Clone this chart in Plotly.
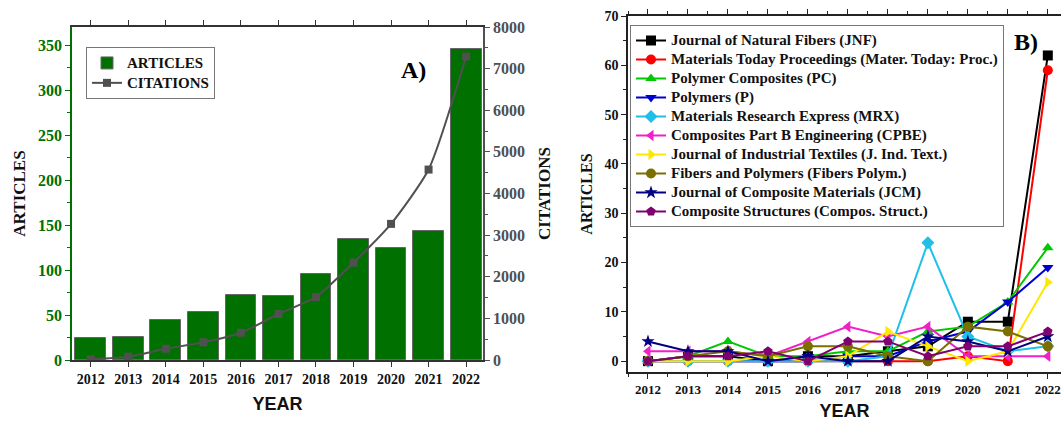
import plotly.graph_objects as go

years = [2012, 2013, 2014, 2015, 2016, 2017, 2018, 2019, 2020, 2021, 2022]
articles = [24, 26, 44, 53, 72, 71, 96, 135, 125, 143, 346]
citations = [20, 80, 270, 425, 655, 1105, 1515, 2340, 3270, 4575, 7290]

journals = [
    "Journal of Natural Fibers (JNF)",
    "Materials Today Proceedings (Mater. Today: Proc.)",
    "Polymer Composites (PC)",
    "Polymers (P)",
    "Materials Research Express (MRX)",
    "Composites Part B Engineering (CPBE)",
    "Journal of Industrial Textiles (J. Ind. Text.)",
    "Fibers and Polymers (Fibers Polym.)",
    "Journal of Composite Materials (JCM)",
    "Composite Structures (Compos. Struct.)",
]
jnf = [0, 1, 1, 0, 1, 1, 2, 3, 8, 8, 62]
mtp = [0, 0, 0, 0, 0, 0, 0, 0, 1, 0, 59]
pc = [0, 1, 4, 1, 1, 2, 2, 6, 7, 12, 23]
pol = [0, 0, 0, 0, 0, 1, 1, 4, 6, 12, 19]
mrx = [0, 0, 0, 0, 0, 0, 1, 24, 5, 2, 3]
cpbe = [2, 2, 2, 1, 4, 7, 5, 7, 1, 1, 1]
jit = [0, 0, 0, 1, 0, 1, 6, 3, 0, 2, 16]
fp = [0, 1, 2, 1, 3, 3, 1, 0, 7, 6, 3]
jcm = [4, 2, 2, 0, 1, 0, 0, 5, 4, 2, 5]
cs = [0, 1, 1, 2, 0, 4, 4, 1, 3, 3, 6]
series_b = [jnf, mtp, pc, pol, mrx, cpbe, jit, fp, jcm, cs]
colors_b = ["#000000", "#ff0000", "#00c800", "#0000d0", "#20bfe8", "#f020c8",
            "#ffe800", "#7a7000", "#000080", "#800070"]
symbols_b = ["square", "circle", "triangle-up", "triangle-down", "diamond",
             "triangle-left", "triangle-right", "circle", "star", "pentagon"]

SERIF = "Liberation Serif"
SANS = "Liberation Sans"
GREEN = "#007000"
GREY = "#505050"


def leg_label(text, size):
    return '<span style="font-size:%spx"><b>%s</b></span>' % (size, text)


fig = go.Figure()

fig.add_trace(go.Bar(
    x=years, y=articles, name=leg_label("ARTICLES", 15), marker_color=GREEN,
    marker_line_color="#666666", marker_line_width=1, width=0.82,
    xaxis="x", yaxis="y", legend="legend"))
fig.add_trace(go.Scatter(
    x=years, y=citations, name=leg_label("CITATIONS", 15), mode="lines+markers",
    line=dict(color=GREY, width=2, shape="spline", smoothing=0.6),
    marker=dict(symbol="square", size=8, color=GREY),
    xaxis="x", yaxis="y2", legend="legend"))

for name, vals, col, sym in zip(journals, series_b, colors_b, symbols_b):
    fig.add_trace(go.Scatter(
        x=years, y=vals, name=leg_label(name, 15), mode="lines+markers",
        line=dict(color=col, width=2),
        marker=dict(symbol=sym, size=10, color=col),
        xaxis="x2", yaxis="y3", legend="legend2"))

W, H = 1061, 421


def px_x(p):
    return p / W


def px_y(p):
    return 1 - p / H


def bold(vals):
    return ["<b>%d</b>" % v for v in vals]


tickfont_a = dict(family=SERIF, size=16, color=GREEN)
fig.update_layout(
    width=W, height=H,
    margin=dict(l=0, r=0, t=0, b=0),
    paper_bgcolor="white", plot_bgcolor="white",
    showlegend=True,
    bargap=0,
    xaxis=dict(
        domain=[px_x(72), px_x(483)], range=[2011.5, 2022.45],
        tickmode="array", tickvals=years, ticktext=bold(years),
        tickfont=dict(family=SERIF, size=14, color="#111111"),
        ticks="outside", ticklen=5, tickcolor="#333333",
        showline=True, linecolor="#333333", linewidth=1.5, mirror="ticks",
        showgrid=False, zeroline=False,
        title=dict(text="<b>YEAR</b>", font=dict(family=SANS, size=18, color="#111111"), standoff=12),
        anchor="y", automargin=False,
    ),
    yaxis=dict(
        domain=[px_y(360), px_y(27)], range=[0, 370],
        tickmode="array", tickvals=[0, 50, 100, 150, 200, 250, 300, 350],
        ticktext=bold([0, 50, 100, 150, 200, 250, 300, 350]),
        tickfont=tickfont_a,
        ticks="outside", ticklen=5, tickcolor=GREEN,
        minor=dict(dtick=25, ticks="outside", ticklen=3, tickcolor=GREEN),
        showline=True, linecolor=GREEN, linewidth=1.5,
        showgrid=False, zeroline=False,
        title=dict(text="<b>ARTICLES</b>", font=dict(family=SERIF, size=17, color="#111111"), standoff=8),
        anchor="x", automargin=False,
    ),
    yaxis2=dict(
        overlaying="y", side="right", range=[0, 8000],
        tickmode="array", tickvals=list(range(0, 8001, 1000)),
        ticktext=bold(range(0, 8001, 1000)),
        tickfont=dict(family=SERIF, size=16, color=GREY),
        ticks="outside", ticklen=5, tickcolor=GREY,
        minor=dict(dtick=500, ticks="outside", ticklen=3, tickcolor=GREY),
        showline=True, linecolor=GREY, linewidth=1.5,
        showgrid=False, zeroline=False,
        title=dict(text="<b>CITATIONS</b>", font=dict(family=SERIF, size=17, color="#111111"), standoff=14),
        anchor="x", automargin=False,
    ),
    xaxis2=dict(
        domain=[px_x(628), 1.0], range=[2011.5, 2022.33],
        tickmode="array", tickvals=years, ticktext=bold(years),
        tickfont=dict(family=SERIF, size=13, color="#111111"),
        ticks="outside", ticklen=5, tickcolor="#222222",
        minor=dict(dtick=0.5, tick0=2011.5, ticks="outside", ticklen=3, tickcolor="#222222"),
        showline=True, linecolor="#222222", linewidth=1.5, mirror="ticks",
        showgrid=False, zeroline=False,
        title=dict(text="<b>YEAR</b>", font=dict(family=SANS, size=18, color="#111111"), standoff=12),
        anchor="y3", automargin=False,
    ),
    yaxis3=dict(
        domain=[px_y(372), px_y(16)], range=[-2.2, 70],
        tickmode="array", tickvals=list(range(0, 71, 10)),
        ticktext=bold(range(0, 71, 10)),
        tickfont=dict(family=SERIF, size=14, color="#111111"),
        ticks="outside", ticklen=5, tickcolor="#222222",
        minor=dict(dtick=5, ticks="outside", ticklen=3, tickcolor="#222222"),
        showline=True, linecolor="#222222", linewidth=1.5, mirror="ticks",
        showgrid=False, zeroline=False,
        title=dict(text="<b>ARTICLES</b>", font=dict(family=SERIF, size=16, color="#111111"), standoff=8),
        anchor="x2", automargin=False,
    ),
    legend=dict(
        x=px_x(86), y=px_y(47), xanchor="left", yanchor="top",
        font=dict(family=SERIF, size=13, color="#111111"),
        bgcolor="white", bordercolor="#777777", borderwidth=1,
        itemwidth=30, tracegroupgap=0,
    ),
    legend2=dict(
        x=px_x(630), y=px_y(25), xanchor="left", yanchor="top",
        font=dict(family=SERIF, size=12.3, color="#111111"),
        bgcolor="white", bordercolor="#777777", borderwidth=1,
        itemwidth=30, tracegroupgap=0,
    ),
    annotations=[
        dict(text="<b>A)</b>", x=px_x(413), y=px_y(70), xref="paper", yref="paper",
             xanchor="center", yanchor="middle",
             showarrow=False, font=dict(family=SERIF, size=24, color="#000000")),
        dict(text="<b>B)</b>", x=px_x(1026), y=px_y(42), xref="paper", yref="paper",
             xanchor="center", yanchor="middle",
             showarrow=False, font=dict(family=SERIF, size=24, color="#000000")),
    ],
)

fig.write_html("out.html",
               config={"displayModeBar": False},
               post_script="document.body.style.margin='0';document.body.style.overflow='hidden';")
